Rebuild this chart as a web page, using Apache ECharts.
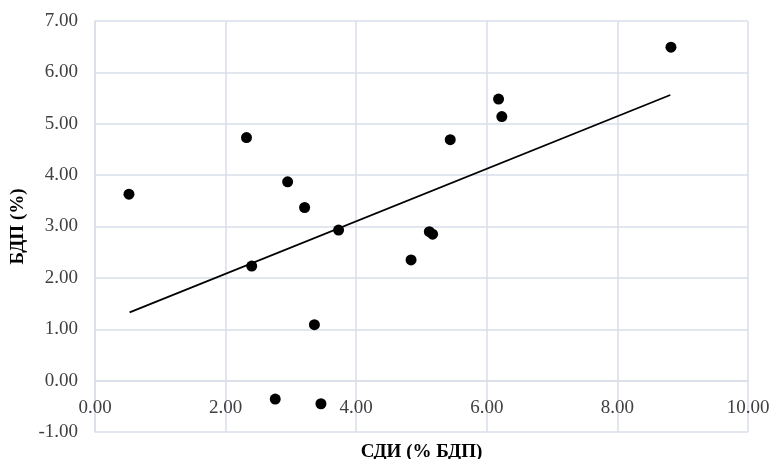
<!DOCTYPE html>
<html>
<head>
<meta charset="utf-8">
<script src="https://cdn.jsdelivr.net/npm/echarts@6/dist/echarts.min.js"></script>
<style>
  html, body { margin: 0; padding: 0; background: #fff; }
  #chart { width: 773px; height: 459px; }
</style>
</head>
<body>
<div id="chart"></div>
<script>
// СДИ (% БДП) по оси X, БДП (%) по оси Y
const sdiValues = [0.52, 2.32, 2.40, 2.76, 2.95, 3.21, 3.36, 3.46, 3.73, 4.84, 5.12, 5.17, 5.44, 6.18, 6.23, 8.82]
const bdpValues = [3.63, 4.73, 2.23, -0.36, 3.87, 3.37, 1.09, -0.45, 2.93, 2.35, 2.90, 2.85, 4.69, 5.48, 5.14, 6.49]

// линия тренда (концы, как на рисунке)
const trendX = [0.53, 8.81]
const trendY = [1.33, 5.56]

const gridColor = '#d9dee8'
const labelFont = 'Liberation Serif, Times New Roman, serif'

const points = sdiValues.map((x, i) => [x, bdpValues[i]])
const trend = trendX.map((x, i) => [x, trendY[i]])

const myChart = echarts.init(document.getElementById('chart'))
const option = {
  animation: false,
  backgroundColor: '#fff',
  grid: {
    left: 95,
    right: 25,
    top: 21,
    bottom: 27,
    containLabel: false,
    outerBoundsMode: 'none'
  },
  xAxis: {
    type: 'value',
    min: 0,
    max: 10,
    interval: 2,
    name: 'СДИ (% БДП)',
    nameLocation: 'middle',
    nameGap: 11,
    nameTextStyle: {
      fontFamily: labelFont,
      fontWeight: 'bold',
      fontSize: 19,
      color: '#000'
    },
    axisLine: { show: true, lineStyle: { color: gridColor, width: 1.5 } },
    axisTick: { show: false },
    // подписи стоят у линии 0, как в Excel
    axisLabel: {
      margin: -33,
      fontFamily: labelFont,
      fontSize: 19,
      color: '#404040',
      formatter: v => v.toFixed(2)
    },
    splitLine: { show: true, lineStyle: { color: gridColor, width: 1.5 } }
  },
  yAxis: {
    type: 'value',
    min: -1,
    max: 7,
    interval: 1,
    name: 'БДП (%)',
    nameLocation: 'middle',
    nameGap: 67,
    nameTextStyle: {
      fontFamily: labelFont,
      fontWeight: 'bold',
      fontSize: 19,
      color: '#000'
    },
    axisLine: { show: true, lineStyle: { color: gridColor, width: 1.5 } },
    axisTick: { show: false },
    axisLabel: {
      margin: 17,
      fontFamily: labelFont,
      fontSize: 19,
      color: '#404040',
      formatter: v => v.toFixed(2)
    },
    splitLine: { show: true, lineStyle: { color: gridColor, width: 1.5 } }
  },
  series: [
    {
      type: 'line',
      data: trend,
      symbol: 'none',
      lineStyle: { color: '#000', width: 1.8 },
      z: 2
    },
    {
      type: 'scatter',
      data: points,
      symbolSize: 11,
      itemStyle: { color: '#000', opacity: 1 },
      z: 3
    }
  ]
}
myChart.setOption(option)
</script>
</body>
</html>
